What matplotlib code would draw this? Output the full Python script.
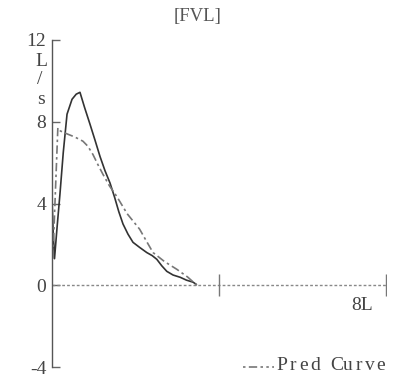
import matplotlib
matplotlib.use("Agg")
import matplotlib.pyplot as plt

# Measured flow-volume curve (volume L, flow L/s)
meas_vol = [0.0, 0.03, 0.06, 0.12, 0.19, 0.27, 0.36, 0.48, 0.58, 0.67, 0.78, 0.91, 1.03, 1.15, 1.27,
            1.39, 1.5, 1.6, 1.7, 1.82, 1.94, 2.1, 2.27, 2.4, 2.51, 2.63, 2.75, 2.9, 3.07, 3.22, 3.38, 3.45]
meas_flow = [4.2, 2.5, 1.3, 2.8, 4.45, 6.5, 8.37, 9.1, 9.35, 9.44, 8.7, 7.88, 7.1, 6.3, 5.6,
             5.0, 4.3, 3.6, 3.0, 2.5, 2.1, 1.85, 1.6, 1.45, 1.27, 0.95, 0.68, 0.5, 0.39, 0.25, 0.15, 0.05]

# Predicted curve
pred_vol = [0.02, 0.08, 0.14, 0.2, 0.38, 0.55, 0.74, 0.86, 0.98, 1.1, 1.22, 1.38, 1.55, 1.8, 2.1,
            2.25, 2.42, 2.7, 2.99, 3.25, 3.47]
pred_flow = [1.3, 4.5, 7.7, 7.55, 7.39, 7.25, 7.05, 6.8, 6.4, 5.9, 5.43, 4.85, 4.35, 3.5, 2.74,
             2.2, 1.6, 1.15, 0.78, 0.4, 0.0]

y_ticks = [-4, 0, 4, 8, 12]
y_tick_labels = ["-4", "0", "4", "8", "12"]
x_ticks = [4, 8]
x_label = "8L"
title = "[FVL]"
legend_label = "Pred Curve"

W, H = 401, 380
fig = plt.figure(figsize=(W / 100, H / 100), dpi=100)
fig.patch.set_facecolor("white")
x0, x1 = 52, 386
y_top, y_bot = 40, 367
ax = fig.add_axes([x0 / W, (H - y_bot) / H, (x1 - x0) / W, (y_bot - y_top) / H])
ax.set_xlim(0, 8)
ax.set_ylim(-4, 12)
ax.set_facecolor("white")
for s in ["top", "right", "bottom"]:
    ax.spines[s].set_visible(False)
ax.spines["left"].set_color("#555555")
ax.spines["left"].set_linewidth(1.0)
ax.set_xticks([])
ax.set_yticks(y_ticks)
serif = "Liberation Serif"
ax.set_yticklabels(y_tick_labels, family=serif, fontsize=14, color="#444444")
ax.tick_params(axis="y", direction="in", length=6, width=1, color="#666666", pad=4)

# zero line
ax.axhline(0, color="#888888", lw=1.0, ls=(0, (2, 1.5)))
ax.plot(x_ticks, [0] * len(x_ticks), ls="none", marker="|", ms=16, mew=1.0, color="#777777")

ax.plot(meas_vol, meas_flow, color="#333333", lw=1.2, solid_joinstyle="round")
ax.plot(pred_vol, pred_flow, color="#777777", lw=1.2, ls=(0, (5, 2, 1.5, 2)))

fig.text(198 / W, 1 - 16 / H, title, ha="center", va="center", family=serif, fontsize=13.5, color="#555555")
fig.text(41 / W, 1 - 61 / H, "L", ha="center", va="center", family=serif, fontsize=14, color="#444444")
fig.text(40 / W, 1 - 80 / H, "/", ha="center", va="center", family=serif, fontsize=14, color="#444444")
fig.text(41 / W, 1 - 100 / H, "s", ha="center", va="center", family=serif, fontsize=14, color="#444444")
fig.text(362 / W, 1 - 306 / H, x_label, ha="center", va="center", family=serif, fontsize=14, color="#444444")

# legend, typewriter-like spacing (~11 px per character)
for i, ch in enumerate(legend_label):
    fig.text((282 + 11 * i) / W, 1 - 366 / H, ch, ha="center", va="center", family=serif,
             fontsize=14, color="#444444")
lx = [243 / W, 274 / W]
fig.add_artist(plt.Line2D(lx, [1 - 367 / H] * 2, color="#777777", lw=1.2, ls=(0, (1.5, 2, 5, 2, 1.5, 2))))

fig.savefig("out.png", dpi=100, facecolor="white")
